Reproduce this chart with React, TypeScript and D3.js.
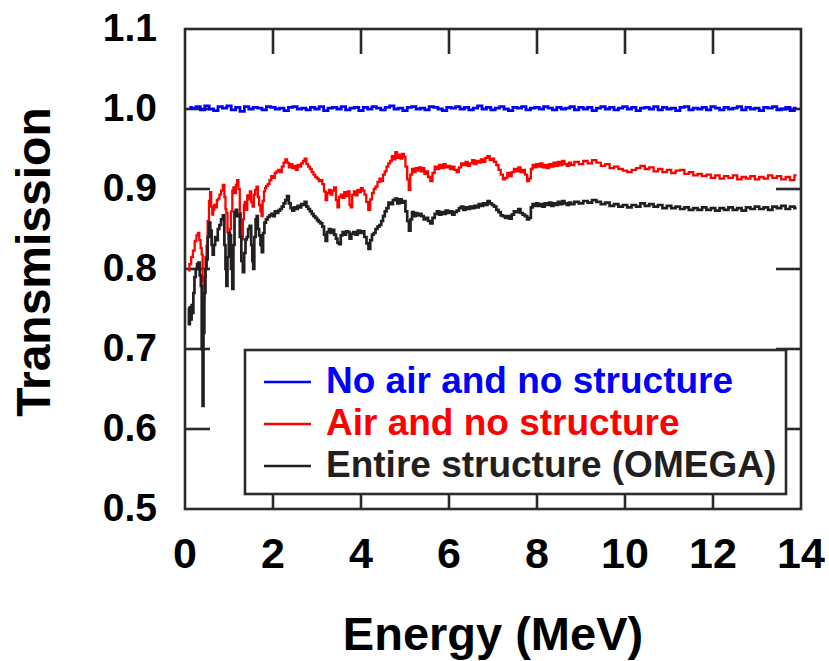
import React from "react";
import * as d3 from "d3";

// ---- Data ----
const xTicks = [0, 2, 4, 6, 8, 10, 12, 14];
const yTicks = [0.5, 0.6, 0.7, 0.8, 0.9, 1.0, 1.1];
const yTickLabels = ["0.5", "0.6", "0.7", "0.8", "0.9", "1.0", "1.1"];

const seriesNames = ["No air and no structure", "Air and no structure", "Entire structure (OMEGA)"];
const seriesColors = ["#0000ff", "#ff0000", "#231f20"];

// No air and no structure: energy 0.1..13.9 step 0.1
const blueEnergy = [
  0.1,0.2,0.3,0.4,0.5,0.6,0.7,0.8,0.9,1.0,1.1,1.2,1.3,1.4,1.5,1.6,1.7,1.8,1.9,2.0,
  2.1,2.2,2.3,2.4,2.5,2.6,2.7,2.8,2.9,3.0,3.1,3.2,3.3,3.4,3.5,3.6,3.7,3.8,3.9,4.0,
  4.1,4.2,4.3,4.4,4.5,4.6,4.7,4.8,4.9,5.0,5.1,5.2,5.3,5.4,5.5,5.6,5.7,5.8,5.9,6.0,
  6.1,6.2,6.3,6.4,6.5,6.6,6.7,6.8,6.9,7.0,7.1,7.2,7.3,7.4,7.5,7.6,7.7,7.8,7.9,8.0,
  8.1,8.2,8.3,8.4,8.5,8.6,8.7,8.8,8.9,9.0,9.1,9.2,9.3,9.4,9.5,9.6,9.7,9.8,9.9,10.0,
  10.1,10.2,10.3,10.4,10.5,10.6,10.7,10.8,10.9,11.0,11.1,11.2,11.3,11.4,11.5,11.6,11.7,11.8,11.9,12.0,
  12.1,12.2,12.3,12.4,12.5,12.6,12.7,12.8,12.9,13.0,13.1,13.2,13.3,13.4,13.5,13.6,13.7,13.8,13.9
];
const blueTrans = [
  1.002,1.001,1.003,0.999,1.004,1.000,0.998,1.003,1.001,1.004,0.999,1.002,0.997,1.003,1.000,1.002,1.001,0.999,1.003,1.002,
  1.000,1.001,0.998,1.002,1.003,1.000,1.001,0.999,1.002,1.000,1.003,0.998,1.001,1.002,1.000,1.003,0.999,1.001,1.002,0.998,
  1.002,1.000,1.003,1.001,0.999,1.002,1.004,1.000,1.001,0.998,1.002,1.003,1.000,1.001,0.999,1.003,1.002,1.000,0.998,1.002,
  1.001,1.003,1.000,1.002,0.999,1.001,1.004,1.000,1.002,0.999,1.001,1.003,1.000,0.998,1.002,1.001,1.003,0.999,1.001,1.002,
  1.000,1.003,1.001,0.999,1.002,1.000,1.001,1.003,0.999,1.002,1.000,1.002,0.998,1.001,1.003,1.000,1.002,0.999,1.001,1.003,
  1.000,1.002,0.998,1.001,1.002,1.000,1.003,0.999,1.002,1.000,1.001,0.998,1.002,1.003,0.999,1.001,1.000,1.002,0.999,1.003,
  1.001,0.999,1.002,1.000,1.001,1.003,0.999,1.002,1.000,1.001,0.998,1.002,1.001,1.003,0.999,1.000,1.002,0.998,1.001
];

// Air and no structure: [energy, transmission]
const redSeries: [number, number][] = [
  [0.08,0.798],[0.12,0.806],[0.16,0.815],[0.20,0.823],[0.24,0.835],[0.28,0.842],[0.31,0.845],[0.34,0.836],[0.37,0.826],[0.39,0.818],
  [0.41,0.785],[0.43,0.760],[0.45,0.790],[0.48,0.815],[0.50,0.829],[0.53,0.860],[0.56,0.885],[0.58,0.896],[0.61,0.878],[0.63,0.868],
  [0.65,0.874],[0.68,0.880],[0.71,0.877],[0.74,0.886],[0.77,0.888],[0.80,0.893],[0.84,0.898],[0.88,0.905],[0.91,0.890],[0.93,0.875],
  [0.95,0.870],[0.98,0.846],[1.01,0.838],[1.03,0.850],[1.06,0.872],[1.09,0.898],[1.11,0.902],[1.14,0.895],[1.17,0.905],[1.20,0.911],
  [1.23,0.900],[1.26,0.870],[1.28,0.850],[1.30,0.837],[1.33,0.862],[1.35,0.880],[1.37,0.884],[1.40,0.874],[1.43,0.892],[1.46,0.887],
  [1.49,0.897],[1.52,0.884],[1.55,0.878],[1.58,0.893],[1.61,0.899],[1.64,0.903],[1.67,0.890],[1.70,0.880],[1.73,0.872],[1.75,0.866],
  [1.78,0.885],[1.81,0.897],[1.83,0.901],[1.86,0.904],[1.90,0.906],[1.94,0.911],[1.98,0.916],[2.02,0.914],[2.06,0.920],[2.10,0.922],
  [2.14,0.924],[2.18,0.921],[2.22,0.928],[2.26,0.933],[2.30,0.937],[2.34,0.933],[2.38,0.927],[2.42,0.931],[2.46,0.926],[2.50,0.929],
  [2.54,0.924],[2.58,0.930],[2.62,0.928],[2.66,0.932],[2.70,0.935],[2.74,0.938],[2.78,0.931],[2.82,0.928],[2.86,0.925],[2.90,0.921],
  [2.94,0.918],[2.98,0.915],[3.02,0.913],[3.06,0.910],[3.10,0.911],[3.14,0.906],[3.18,0.897],[3.21,0.886],[3.25,0.895],[3.29,0.899],
  [3.33,0.893],[3.37,0.898],[3.41,0.902],[3.45,0.886],[3.48,0.877],[3.52,0.890],[3.56,0.893],[3.60,0.889],[3.64,0.896],[3.68,0.891],
  [3.72,0.897],[3.76,0.880],[3.78,0.877],[3.82,0.893],[3.86,0.897],[3.90,0.892],[3.94,0.899],[3.98,0.896],[4.02,0.901],[4.06,0.898],
  [4.10,0.893],[4.14,0.884],[4.19,0.874],[4.23,0.887],[4.27,0.895],[4.31,0.900],[4.35,0.903],[4.40,0.909],[4.44,0.913],[4.48,0.910],
  [4.52,0.918],[4.56,0.922],[4.60,0.928],[4.64,0.932],[4.68,0.935],[4.72,0.941],[4.76,0.937],[4.80,0.946],[4.84,0.939],[4.88,0.943],
  [4.92,0.938],[4.96,0.944],[4.99,0.940],[5.03,0.928],[5.07,0.912],[5.10,0.899],[5.14,0.918],[5.18,0.925],[5.22,0.921],[5.26,0.926],
  [5.30,0.923],[5.34,0.927],[5.38,0.922],[5.42,0.926],[5.46,0.919],[5.50,0.922],[5.55,0.915],[5.60,0.910],[5.65,0.920],[5.70,0.928],
  [5.75,0.925],[5.80,0.930],[5.85,0.926],[5.90,0.931],[5.95,0.927],[6.00,0.929],[6.05,0.925],[6.10,0.928],[6.15,0.924],[6.20,0.921],
  [6.25,0.927],[6.30,0.932],[6.35,0.930],[6.40,0.934],[6.45,0.929],[6.50,0.932],[6.55,0.936],[6.60,0.931],[6.65,0.935],[6.70,0.933],
  [6.75,0.937],[6.80,0.934],[6.85,0.939],[6.90,0.941],[6.95,0.936],[7.00,0.938],[7.05,0.934],[7.10,0.930],[7.15,0.924],[7.20,0.918],
  [7.25,0.912],[7.30,0.914],[7.35,0.920],[7.40,0.916],[7.45,0.921],[7.50,0.925],[7.55,0.922],[7.60,0.927],[7.65,0.921],[7.70,0.924],
  [7.75,0.918],[7.80,0.910],[7.84,0.913],[7.88,0.925],[7.92,0.930],[7.96,0.927],[8.00,0.931],[8.05,0.928],[8.10,0.932],[8.15,0.927],
  [8.20,0.930],[8.25,0.926],[8.30,0.931],[8.35,0.928],[8.40,0.933],[8.45,0.929],[8.50,0.934],[8.55,0.930],[8.60,0.935],[8.65,0.931],
  [8.70,0.929],[8.75,0.933],[8.80,0.930],[8.90,0.934],[9.00,0.931],[9.10,0.935],[9.20,0.932],[9.30,0.936],[9.40,0.933],[9.50,0.929],
  [9.60,0.931],[9.70,0.926],[9.80,0.928],[9.90,0.925],[10.00,0.923],[10.10,0.921],[10.20,0.924],[10.30,0.926],[10.40,0.929],[10.50,0.925],
  [10.60,0.927],[10.70,0.922],[10.80,0.925],[10.90,0.921],[11.00,0.924],[11.10,0.920],[11.20,0.923],[11.30,0.924],[11.40,0.919],[11.50,0.921],
  [11.60,0.917],[11.70,0.919],[11.80,0.916],[11.90,0.918],[12.00,0.914],[12.10,0.917],[12.20,0.913],[12.30,0.916],[12.40,0.914],[12.50,0.917],
  [12.60,0.912],[12.70,0.915],[12.80,0.913],[12.90,0.916],[13.00,0.912],[13.10,0.915],[13.20,0.913],[13.30,0.917],[13.40,0.914],[13.50,0.916],
  [13.60,0.912],[13.70,0.915],[13.80,0.911],[13.90,0.917]
];

// Entire structure (OMEGA): [energy, transmission]
const blackSeries: [number, number][] = [
  [0.08,0.752],[0.10,0.731],[0.12,0.745],[0.14,0.737],[0.16,0.755],[0.18,0.745],[0.20,0.770],[0.23,0.790],[0.26,0.800],[0.29,0.806],
  [0.32,0.808],[0.35,0.792],[0.37,0.779],[0.39,0.700],[0.41,0.629],[0.43,0.720],[0.45,0.770],[0.48,0.800],[0.50,0.812],[0.53,0.840],
  [0.56,0.858],[0.59,0.848],[0.62,0.830],[0.64,0.818],[0.67,0.830],[0.70,0.840],[0.73,0.836],[0.76,0.850],[0.80,0.855],[0.84,0.862],
  [0.88,0.867],[0.91,0.830],[0.93,0.800],[0.95,0.779],[0.98,0.815],[1.01,0.845],[1.03,0.842],[1.06,0.800],[1.09,0.775],[1.11,0.830],
  [1.14,0.871],[1.17,0.874],[1.20,0.866],[1.23,0.868],[1.26,0.840],[1.30,0.810],[1.33,0.796],[1.36,0.820],[1.39,0.837],[1.42,0.840],
  [1.45,0.850],[1.49,0.854],[1.52,0.830],[1.54,0.810],[1.56,0.800],[1.59,0.840],[1.62,0.862],[1.64,0.866],[1.67,0.850],[1.70,0.842],
  [1.73,0.830],[1.76,0.821],[1.79,0.845],[1.82,0.858],[1.86,0.862],[1.90,0.865],[1.94,0.867],[1.98,0.869],[2.02,0.866],[2.06,0.872],
  [2.10,0.870],[2.14,0.873],[2.18,0.875],[2.22,0.878],[2.26,0.882],[2.30,0.886],[2.34,0.891],[2.38,0.882],[2.42,0.876],[2.46,0.873],
  [2.50,0.877],[2.54,0.875],[2.58,0.879],[2.62,0.877],[2.66,0.881],[2.70,0.880],[2.74,0.884],[2.78,0.878],[2.82,0.875],[2.86,0.872],
  [2.90,0.869],[2.94,0.866],[2.98,0.864],[3.02,0.861],[3.06,0.859],[3.10,0.857],[3.14,0.853],[3.18,0.843],[3.21,0.835],[3.25,0.846],
  [3.29,0.850],[3.33,0.845],[3.37,0.849],[3.41,0.843],[3.45,0.838],[3.48,0.833],[3.52,0.831],[3.56,0.842],[3.60,0.846],[3.64,0.843],
  [3.68,0.847],[3.72,0.846],[3.76,0.838],[3.80,0.844],[3.85,0.846],[3.90,0.843],[3.95,0.848],[4.00,0.845],[4.05,0.847],[4.10,0.840],
  [4.15,0.832],[4.19,0.825],[4.23,0.836],[4.27,0.843],[4.31,0.845],[4.35,0.850],[4.40,0.853],[4.44,0.855],[4.48,0.860],[4.52,0.866],
  [4.56,0.872],[4.60,0.876],[4.65,0.883],[4.70,0.881],[4.75,0.886],[4.80,0.888],[4.85,0.882],[4.90,0.887],[4.95,0.883],[4.99,0.885],
  [5.03,0.872],[5.07,0.860],[5.11,0.848],[5.14,0.862],[5.18,0.871],[5.22,0.866],[5.26,0.870],[5.30,0.867],[5.35,0.869],[5.40,0.866],
  [5.45,0.862],[5.50,0.864],[5.55,0.860],[5.60,0.857],[5.65,0.864],[5.70,0.869],[5.75,0.872],[5.80,0.868],[5.85,0.871],[5.90,0.869],
  [5.95,0.873],[6.00,0.870],[6.05,0.872],[6.10,0.868],[6.15,0.871],[6.20,0.873],[6.25,0.876],[6.30,0.878],[6.35,0.874],[6.40,0.877],
  [6.45,0.875],[6.50,0.878],[6.55,0.876],[6.60,0.879],[6.65,0.877],[6.70,0.881],[6.75,0.879],[6.80,0.882],[6.85,0.880],[6.90,0.885],
  [6.95,0.882],[7.00,0.880],[7.05,0.878],[7.10,0.874],[7.15,0.871],[7.20,0.867],[7.25,0.866],[7.30,0.864],[7.35,0.866],[7.40,0.863],
  [7.45,0.868],[7.50,0.872],[7.55,0.871],[7.60,0.875],[7.65,0.870],[7.70,0.868],[7.75,0.866],[7.80,0.862],[7.84,0.864],[7.88,0.877],
  [7.92,0.881],[7.96,0.879],[8.00,0.882],[8.05,0.879],[8.10,0.881],[8.15,0.878],[8.20,0.882],[8.25,0.880],[8.30,0.883],[8.35,0.879],
  [8.40,0.882],[8.45,0.880],[8.50,0.884],[8.55,0.881],[8.60,0.885],[8.65,0.882],[8.70,0.880],[8.75,0.883],[8.80,0.881],[8.90,0.884],
  [9.00,0.882],[9.10,0.885],[9.20,0.883],[9.30,0.886],[9.40,0.884],[9.50,0.881],[9.60,0.883],[9.70,0.879],[9.80,0.881],[9.90,0.878],
  [10.00,0.880],[10.10,0.877],[10.20,0.880],[10.30,0.878],[10.40,0.882],[10.50,0.879],[10.60,0.881],[10.70,0.878],[10.80,0.880],[10.90,0.876],
  [11.00,0.879],[11.10,0.876],[11.20,0.878],[11.30,0.875],[11.40,0.877],[11.50,0.874],[11.60,0.876],[11.70,0.874],[11.80,0.877],[11.90,0.874],
  [12.00,0.876],[12.10,0.873],[12.20,0.876],[12.30,0.874],[12.40,0.877],[12.50,0.874],[12.60,0.876],[12.70,0.873],[12.80,0.877],[12.90,0.875],
  [13.00,0.878],[13.10,0.875],[13.20,0.877],[13.30,0.874],[13.40,0.878],[13.50,0.876],[13.60,0.879],[13.70,0.875],[13.80,0.878],[13.90,0.876]
];

const W = 829;
const H = 661;
const FONT = "'Liberation Sans', Arial, Helvetica, sans-serif";
const FRAME = "#2b2b2b";

export default function App() {
  const left = 185, right = 801, top = 29, bottom = 509;
  const x = d3.scaleLinear().domain([0, 14]).range([left, right]);
  const y = d3.scaleLinear().domain([0.5, 1.1]).range([bottom, top]);

  const line = d3
    .line<[number, number]>()
    .x((d) => x(d[0]))
    .y((d) => y(d[1]))
    .curve(d3.curveStep);

  const blueSeries: [number, number][] = blueEnergy.map((e, i) => [e, blueTrans[i]]);
  const allSeries = [blueSeries, redSeries, blackSeries];
  const widths = [2.8, 2.3, 2.7];

  const tickLen = 25;

  const legendX = 245, legendY = 350, legendW = 541, legendH = 144;
  const rowY = [382, 424, 466];

  return (
    <svg
      width={W}
      height={H}
      viewBox={`0 0 ${W} ${H}`}
      style={{ position: "absolute", left: 0, top: 0, background: "#fff" }}
    >
      <rect x={0} y={0} width={W} height={H} fill="#fff" />
      <defs>
        <clipPath id="plotclip">
          <rect x={left} y={top} width={right - left} height={bottom - top} />
        </clipPath>
      </defs>
      {/* ticks */}
      <g stroke={FRAME} strokeWidth={2.6}>
        {xTicks.slice(1, -1).map((t) => (
          <g key={"xt" + t}>
            <line x1={x(t)} x2={x(t)} y1={top} y2={top + tickLen} />
            <line x1={x(t)} x2={x(t)} y1={bottom} y2={bottom - tickLen} />
          </g>
        ))}
        {yTicks.slice(1, -1).map((t) => (
          <g key={"yt" + t}>
            <line x1={left} x2={left + tickLen} y1={y(t)} y2={y(t)} />
            <line x1={right} x2={right - tickLen} y1={y(t)} y2={y(t)} />
          </g>
        ))}
      </g>

      {/* series */}
      <g clipPath="url(#plotclip)">
        {allSeries.map((s, i) => (
          <path
            key={"s" + i}
            d={line(s) || ""}
            fill="none"
            stroke={seriesColors[i]}
            strokeWidth={widths[i]}
            strokeLinejoin="miter"
          />
        ))}
      </g>

      {/* frame */}
      <rect
        x={left}
        y={top}
        width={right - left}
        height={bottom - top}
        fill="none"
        stroke={FRAME}
        strokeWidth={2.6}
      />

      {/* legend */}
      <rect x={legendX} y={legendY} width={legendW} height={legendH} fill="#fff" stroke={FRAME} strokeWidth={2.6} />
      {seriesNames.map((n, i) => (
        <g key={"lg" + i}>
          <line x1={264} x2={311} y1={rowY[i]} y2={rowY[i]} stroke={seriesColors[i]} strokeWidth={2.6} />
          <text
            x={326}
            y={rowY[i] + 11}
            fontFamily={FONT}
            fontWeight="bold"
            fontSize={37}
            fill={seriesColors[i]}
          >
            {n}
          </text>
        </g>
      ))}

      {/* y tick labels */}
      {yTicks.map((t, i) => (
        <text
          key={"yl" + t}
          x={157}
          y={y(t) + 12}
          textAnchor="end"
          fontFamily={FONT}
          fontWeight="bold"
          fontSize={39}
          fill="#000"
        >
          {yTickLabels[i]}
        </text>
      ))}

      {/* x tick labels */}
      {xTicks.map((t) => (
        <text
          key={"xl" + t}
          x={x(t)}
          y={568}
          textAnchor="middle"
          fontFamily={FONT}
          fontWeight="bold"
          fontSize={43}
          fill="#000"
        >
          {t}
        </text>
      ))}

      {/* axis titles */}
      <text
        x={(left + right) / 2}
        y={650}
        textAnchor="middle"
        fontFamily={FONT}
        fontWeight="bold"
        fontSize={47}
        fill="#000"
      >
        Energy (MeV)
      </text>
      <text
        transform={`translate(50, 262) rotate(-90)`}
        textAnchor="middle"
        fontFamily={FONT}
        fontWeight="bold"
        fontSize={48}
        fill="#000"
      >
        Transmission
      </text>
    </svg>
  );
}
